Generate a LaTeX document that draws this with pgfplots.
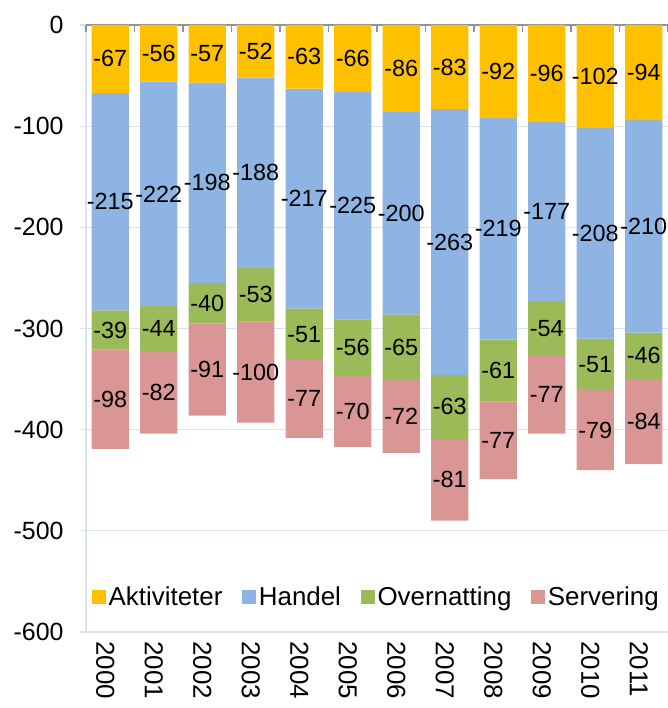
\documentclass[border=0pt]{standalone}
\usepackage{pgfplots}
\usepackage{pgfplotstable}
\pgfplotsset{compat=1.18}
\usepackage{fontspec}
\setmainfont{Liberation Sans}
\definecolor{cAkt}{HTML}{FFC000}
\definecolor{cHan}{HTML}{8EB4E3}
\definecolor{cOve}{HTML}{9BBB59}
\definecolor{cSer}{HTML}{D99694}
\definecolor{gridc}{HTML}{D9E2F0}
\pgfplotstableread{
x v
0 -67
1 -56
2 -57
3 -52
4 -63
5 -66
6 -86
7 -83
8 -92
9 -96
10 -102
11 -94
}\akt
\pgfplotstableread{
x v
0 -215
1 -222
2 -198
3 -188
4 -217
5 -225
6 -200
7 -263
8 -219
9 -177
10 -208
11 -210
}\han
\pgfplotstableread{
x v
0 -39
1 -44
2 -40
3 -53
4 -51
5 -56
6 -65
7 -63
8 -61
9 -54
10 -51
11 -46
}\ove
\pgfplotstableread{
x v
0 -98
1 -82
2 -91
3 -100
4 -77
5 -70
6 -72
7 -81
8 -77
9 -77
10 -79
11 -84
}\ser
\begin{document}
\begin{tikzpicture}
\begin{axis}[
  scale only axis, width=582bp, height=607bp,
  xmin=-0.5, xmax=11.5, ymin=-600, ymax=0,
  ybar stacked, bar width=0.77,
  axis y line*=left, axis x line*=bottom,
  x axis line style={draw=none},
  y axis line style={gridc, line width=1.2pt},
  ymajorgrids, grid style={gridc, line width=1.2pt},
  ytick={-600,-500,-400,-300,-200,-100,0},
  ytick style={gridc, line width=1.2pt},
  major tick length=6bp, tick align=outside,
  xtick={0,...,11},
  xticklabels={2000,2001,2002,2003,2004,2005,2006,2007,2008,2009,2010,2011},
  xtick style={draw=none},
  xticklabel style={rotate=-90, anchor=west, yshift=-5bp, font=\fontsize{26}{30}\selectfont},
  yticklabel style={font=\fontsize{25}{29}\selectfont, xshift=-13bp},
  /pgf/number format/assume math mode=true,
  point meta=explicit,
  nodes near coords={\pgfmathprintnumber[assume math mode=true]{\pgfplotspointmeta}},
  every node near coord/.append style={anchor=center, font=\fontsize{23.5}{27}\selectfont, text=black},
  legend style={at={(0.5,0.058)}, anchor=center, draw=none, fill=none,
    legend columns=4, font=\fontsize{26}{30}\selectfont,
    nodes={inner sep=3bp},
    /tikz/every even column/.append style={column sep=17bp}},
  legend image code/.code={\fill[#1] (0bp,-6.75bp) rectangle (13.5bp,6.75bp);},
  clip=false,
]
\addplot[fill=cAkt, draw=none] table[x=x, y=v, meta=v] {\akt};
\addplot[fill=cHan, draw=none] table[x=x, y=v, meta=v] {\han};
\addplot[fill=cOve, draw=none] table[x=x, y=v, meta=v] {\ove};
\addplot[fill=cSer, draw=none] table[x=x, y=v, meta=v] {\ser};
\legend{Aktiviteter, Handel, Overnatting, Servering}
\draw[gray!85, line width=1.2pt] (rel axis cs:0,1) -- (rel axis cs:1,1);
\pgfplotsinvokeforeach{0,...,12}{\draw[gray!85, line width=1.2pt] (rel axis cs:#1/12,1) -- ([yshift=-7bp]rel axis cs:#1/12,1);}
\end{axis}
\pgfresetboundingbox
\useasboundingbox (-86bp,-76bp) rectangle (582bp,632bp);
\end{tikzpicture}
\end{document}
